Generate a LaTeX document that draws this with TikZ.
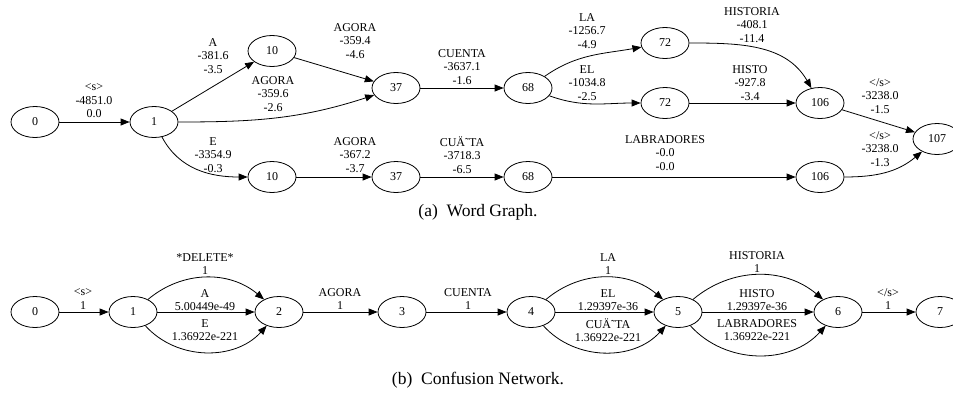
\documentclass[tikz,border=0pt]{standalone}
\usepackage{fontspec}
\setmainfont{Liberation Serif}
\usetikzlibrary{shapes.geometric,arrows.meta}

\begin{document}
\begin{tikzpicture}[x=1pt,y=-1pt,
  state/.style={ellipse,draw,line width=0.8pt,minimum width=48pt,minimum height=31pt,inner sep=0pt,font=\fontsize{12}{13.5}\selectfont},
  arc/.style={line width=0.8pt,-{Triangle[length=9pt,width=7pt]}},
  lab/.style={align=center,inner sep=0pt,font=\fontsize{12}{13.5}\selectfont},
  captext/.style={inner sep=0pt,font=\fontsize{17.5}{20}\selectfont}]
\path[use as bounding box] (0,0) rectangle (953,397);
\clip (0,0) rectangle (953,397);

% ---------- word graph ----------
\node[state] (a0)   at (35,122)  {0};
\node[state] (a1)   at (154,122) {1};
\node[state] (a10t) at (272,51)  {10};
\node[state] (a10b) at (272,177) {10};
\node[state] (a37t) at (396,88)  {37};
\node[state] (a37b) at (396,177) {37};
\node[state] (a68t) at (528,88)  {68};
\node[state] (a68b) at (528,177) {68};
\node[state] (a72t) at (665,43)  {72};
\node[state] (a72b) at (665,103) {72};
\node[state] (a106t) at (820,103) {106};
\node[state] (a106b) at (820,177) {106};
\node[state] (a107) at (937,139) {107};

\draw[arc] (a0) -- (a1);
\draw[arc] (a1) -- (a10t);
\draw[arc] (a1) to[out=0,in=198] (a37t);
\draw[arc] (a1) to[out=-62,in=180] (a10b);
\draw[arc] (a10t) -- (a37t);
\draw[arc] (a37t) -- (a68t);
\draw[arc] (a68t) to[out=35,in=190] (a72t);
\draw[arc] (a68t) to[out=-20,in=180] (a72b);
\draw[arc] (a72t) to[out=0,in=120] (a106t);
\draw[arc] (a72b) -- (a106t);
\draw[arc] (a106t) -- (a107);
\draw[arc] (a10b) -- (a37b);
\draw[arc] (a37b) -- (a68b);
\draw[arc] (a68b) -- (a106b);
\draw[arc] (a106b) to[out=0,in=220] (a107);

\node[lab] (la01)  at (94,101)  {<s>\\-4851.0\\0.0};
\node[lab] (laA)   at (213,56)  {A\\-381.6\\-3.5};
\node[lab] (laAg1) at (273,94)  {AGORA\\-359.6\\-2.6};
\node[lab] (laE)   at (213,155) {E\\-3354.9\\-0.3};
\node[lab] (laAg2) at (355,41)  {AGORA\\-359.4\\-4.6};
\node[lab] (laCu)  at (462,67)  {CUENTA\\-3637.1\\-1.6};
\node[lab] (laLA)  at (587,31)  {LA\\-1256.7\\-4.9};
\node[lab] (laEL)  at (587,83)  {EL\\-1034.8\\-2.5};
\node[lab] (laAg3) at (355,155) {AGORA\\-367.2\\-3.7};
\node[lab] (laCua) at (462,155) {CUÄ˜TA\\-3718.3\\-6.5};
\node[lab] (laLab) at (665,153) {LABRADORES\\-0.0\\-0.0};
\node[lab] (laHis) at (752,25)  {HISTORIA\\-408.1\\-11.4};
\node[lab] (laHo)  at (750,83)  {HISTO\\-927.8\\-3.4};
\node[lab] (laS1)  at (880,96)  {</s>\\-3238.0\\-1.5};
\node[lab] (laS2)  at (880,149) {</s>\\-3238.0\\-1.3};

\node[captext] (capa) at (478,212) {(a)\ \ Word Graph.};

% ---------- confusion network ----------
\node[state] (b0) at (35,312)  {0};
\node[state] (b1) at (133,312) {1};
\node[state] (b2) at (279,312) {2};
\node[state] (b3) at (402,312) {3};
\node[state] (b4) at (531,312) {4};
\node[state] (b5) at (678,312) {5};
\node[state] (b6) at (838,312) {6};
\node[state] (b7) at (940,312) {7};

\draw[arc] (b0) -- (b1);
\draw[arc] (b1) to[bend left=40] (b2);
\draw[arc] (b1) -- (b2);
\draw[arc] (b1) to[bend right=48] (b2);
\draw[arc] (b2) -- (b3);
\draw[arc] (b3) -- (b4);
\draw[arc] (b4) to[bend left=40] (b5);
\draw[arc] (b4) -- (b5);
\draw[arc] (b4) to[bend right=48] (b5);
\draw[arc] (b5) to[bend left=40] (b6);
\draw[arc] (b5) -- (b6);
\draw[arc] (b5) to[bend right=48] (b6);
\draw[arc] (b6) -- (b7);

\node[lab] (lb01)  at (83,299)  {<s>\\1};
\node[lab] (lbDel) at (205,264) {*DELETE*\\1};
\node[lab] (lbA)   at (205,300) {A\\5.00449e-49};
\node[lab] (lbE)   at (205,330) {E\\1.36922e-221};
\node[lab] (lbAg)  at (340,299) {AGORA\\1};
\node[lab] (lbCu)  at (468,299) {CUENTA\\1};
\node[lab] (lbLA)  at (608,264) {LA\\1};
\node[lab] (lbEL)  at (608,300) {EL\\1.29397e-36};
\node[lab] (lbCua) at (608,330) {CUÄ˜TA\\1.36922e-221};
\node[lab] (lbHis) at (757,262) {HISTORIA\\1};
\node[lab] (lbHo)  at (757,300) {HISTO\\1.29397e-36};
\node[lab] (lbLab) at (757,330) {LABRADORES\\1.36922e-221};
\node[lab] (lbS)   at (888,299) {</s>\\1};

\node[captext] (capb) at (478,380) {(b)\ \ Confusion Network.};
\end{tikzpicture}
\end{document}
